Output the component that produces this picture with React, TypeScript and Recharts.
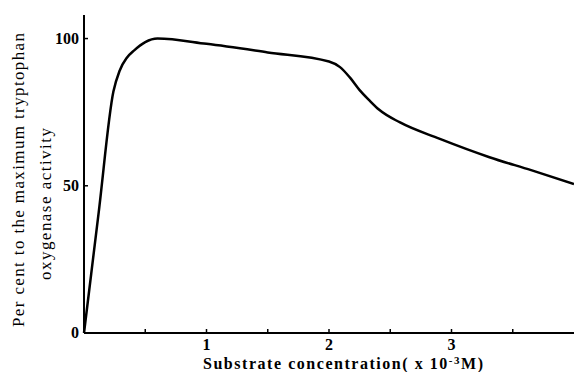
import React from "react";
import { LineChart, Line, XAxis, YAxis, Label } from "recharts";

// Substrate concentration (x 10^-3 M)
const concentration = [0, 0.12, 0.24, 0.29, 0.35, 0.41, 0.5, 0.6, 1.0, 1.5, 2.0, 2.09, 2.17, 2.25, 2.33, 2.41, 2.58, 2.9, 3.31, 3.65, 4.0];
// Per cent of maximum tryptophan oxygenase activity
const activity = [0, 41, 82, 89, 93.5, 96, 98.8, 100, 98.2, 95.3, 92.2, 90.3, 86.8, 82.5, 79, 75.8, 71.5, 66, 59.7, 55.3, 50.6];

const xTicks = [0, 0.5, 1, 1.5, 2, 2.5, 3, 3.5];
const xLabeled = [1, 2, 3];
const yTicks = [0, 50, 100];

const data = concentration.map((c, i) => ({ c, v: activity[i] }));

const FONT = "'Liberation Serif', 'DejaVu Serif', serif";

const XTick = (props: any) => {
  const { x, y, payload } = props;
  const val = payload.value as number;
  return (
    <g>
      {val !== 0 && <line x1={x} y1={y} x2={x} y2={y - 4} stroke="#000" strokeWidth={1.5} />}
      {xLabeled.includes(val) && (
        <text x={x} y={y + 17} textAnchor="middle" fontFamily={FONT} fontWeight="bold" fontSize={16} fill="#000">
          {val}
        </text>
      )}
    </g>
  );
};

const YTick = (props: any) => {
  const { x, y, payload } = props;
  const val = payload.value as number;
  return (
    <g>
      {val !== 0 && <line x1={x} y1={y} x2={x + 4} y2={y} stroke="#000" strokeWidth={1.5} />}
      <text x={x - 5} y={y + 5} textAnchor="end" fontFamily={FONT} fontWeight="bold" fontSize={16} fill="#000">
        {val}
      </text>
    </g>
  );
};

const YTitle = () => (
  <g fontFamily={FONT} fontSize={17} fill="#000">
    <text transform="translate(24,180) rotate(-90)" textAnchor="middle" textLength={294} lengthAdjust="spacing">
      Per cent to the maximum tryptophan
    </text>
    <text transform="translate(51,204) rotate(-90)" textAnchor="middle" textLength={152} lengthAdjust="spacing">
      oxygenase activity
    </text>
  </g>
);

const XTitle = () => (
  <text x={343} y={369} textAnchor="middle" fontFamily={FONT} fontSize={16} fontWeight="bold" fill="#000" textLength={280} lengthAdjust="spacing">
    Substrate concentration( x 10
    <tspan dy={-5} fontSize={11}>-3</tspan>
    <tspan dy={5}>M)</tspan>
  </text>
);

export default function App() {
  return (
    <div style={{ position: "fixed", left: 0, top: 0, width: 574, height: 372, background: "#fff" }}>
      <LineChart width={574} height={372} data={data} margin={{ top: 15, right: 0, bottom: 0, left: 0 }}>
        <XAxis
          dataKey="c"
          type="number"
          domain={[0, 4]}
          ticks={xTicks}
          tick={<XTick />}
          tickLine={false}
          tickSize={0}
          tickMargin={0}
          axisLine={{ stroke: "#000", strokeWidth: 2 }}
          height={39}
        >
          <Label content={<XTitle />} />
        </XAxis>
        <YAxis
          type="number"
          domain={[0, 108]}
          ticks={yTicks}
          tick={<YTick />}
          tickLine={false}
          tickSize={0}
          tickMargin={0}
          axisLine={{ stroke: "#000", strokeWidth: 2 }}
          width={84}
        >
          <Label content={<YTitle />} />
        </YAxis>
        <Line
          dataKey="v"
          type="monotone"
          stroke="#000"
          strokeWidth={2.5}
          dot={false}
          isAnimationActive={false}
        />
      </LineChart>
    </div>
  );
}
